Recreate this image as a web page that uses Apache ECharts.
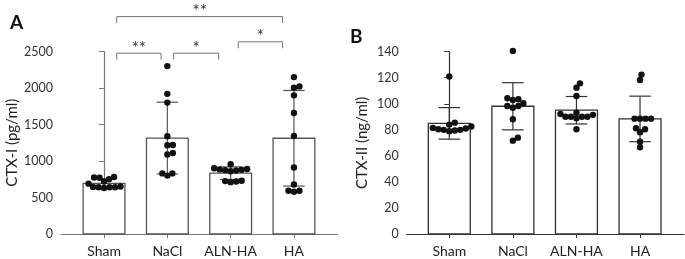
<!DOCTYPE html>
<html>
<head>
<meta charset="utf-8">
<script src="https://cdn.jsdelivr.net/npm/echarts@6/dist/echarts.min.js"></script>
<style>
  html, body { margin: 0; padding: 0; background: #fff; }
  #chart { width: 685px; height: 259px; }
</style>
</head>
<body>
<div id="chart"></div>
<script>
// groups
const categories = ['Sham', 'NaCl', 'ALN-HA', 'HA'];

// A: CTX-I (pg/ml), one value per animal
const ctx1Sham = [640, 640, 645, 640, 650, 630, 690, 720, 750, 775, 780, 770];
const ctx1NaCl = [2300, 1920, 1800, 1340, 1220, 1215, 1110, 1090, 830, 830, 800];
const ctx1AlnHa = [860, 870, 880, 890, 900, 956, 885, 875, 730, 725, 720, 710];
const ctx1Ha = [2149, 2022, 2004, 1899, 1657, 1343, 911, 679, 592, 592, 578];

// B: CTX-II (ng/ml)
const ctx2Sham = [121, 85.5, 84, 82.5, 81.5, 81, 80.5, 80, 79.5, 79, 80];
const ctx2NaCl = [140.6, 104.2, 103.5, 102.9, 100.4, 98.3, 97.0, 98.3, 88.1, 74.0, 71.7];
const ctx2AlnHa = [115.7, 112.4, 106, 90.1, 90.1, 90.1, 90.1, 91.5, 93.2, 88.9, 92.2, 80.4];
const ctx2Ha = [122.4, 118.3, 88.6, 88.6, 88.6, 88.6, 81.2, 80.4, 78.1, 70.9, 66.6];

// y tick labels
const ctx1Ticks = [0, 500, 1000, 1500, 2000, 2500];
const ctx2Ticks = [0, 20, 40, 60, 80, 100, 120, 140];

// significance brackets on A: [from, to, height (pg/ml), label]
const sigBrackets = [
  [0.2, 0.9, 2477, '**'],
  [1.1, 1.81, 2477, '*'],
  [2.12, 2.82, 2633, '*'],
  [0.2, 2.82, 2978, '**']
];

const groupsA = [ctx1Sham, ctx1NaCl, ctx1AlnHa, ctx1Ha];
const groupsB = [ctx2Sham, ctx2NaCl, ctx2AlnHa, ctx2Ha];

function mean(a) {
  return a.reduce((s, v) => s + v, 0) / a.length;
}
function sd(a) {
  const m = mean(a);
  return Math.sqrt(a.reduce((s, v) => s + (v - m) * (v - m), 0) / (a.length - 1));
}

// simple beeswarm: lowest values first, each dot pushed sideways until it does not overlap
function swarm(ys, r) {
  const order = ys.map((y, k) => k).sort((a, b) => ys[b] - ys[a]);
  const placed = [];
  const off = new Array(ys.length).fill(0);
  const minD = 2 * r * 0.85;
  order.forEach(k => {
    for (let step = 0; step < 400; step++) {
      const dx = (step % 2 ? 1 : -1) * Math.ceil(step / 2) * 0.5;
      const ok = placed.every(p => {
        const ddx = p[0] - dx, ddy = p[1] - ys[k];
        return ddx * ddx + ddy * ddy >= minD * minD;
      });
      if (ok) { off[k] = dx; placed.push([dx, ys[k]]); break; }
    }
  });
  return off;
}

const barHalf = 0.33;
const capHalf = 0.17;

function barSeries(groups, axis, color) {
  return {
    type: 'custom',
    xAxisIndex: axis, yAxisIndex: axis,
    clip: false,
    data: groups.map((g, i) => [i, mean(g), sd(g)]),
    renderItem: (params, api) => {
      const i = api.value(0), m = api.value(1), s = api.value(2);
      const tl = api.coord([i - barHalf, m]);
      const br = api.coord([i + barHalf, 0]);
      const lo = api.coord([i, m - s]);
      const hi = api.coord([i, m + s]);
      const capW = api.coord([i + capHalf, 0])[0] - api.coord([i, 0])[0];
      const line = { stroke: color, lineWidth: 1.2 };
      return {
        type: 'group',
        children: [
          { type: 'rect', shape: { x: tl[0], y: tl[1], width: br[0] - tl[0], height: br[1] - tl[1] },
            style: { fill: '#fff', stroke: color, lineWidth: 1.3 } },
          { type: 'line', shape: { x1: lo[0], y1: lo[1], x2: hi[0], y2: hi[1] }, style: line },
          { type: 'line', shape: { x1: lo[0] - capW, y1: lo[1], x2: lo[0] + capW, y2: lo[1] }, style: line },
          { type: 'line', shape: { x1: hi[0] - capW, y1: hi[1], x2: hi[0] + capW, y2: hi[1] }, style: line }
        ]
      };
    }
  };
}

function dotSeries(groups, axis) {
  return {
    type: 'custom',
    xAxisIndex: axis, yAxisIndex: axis,
    clip: false,
    z: 5,
    data: groups.map((g, i) => [i, mean(g)]),
    renderItem: (params, api) => {
      const i = api.value(0);
      const vals = groups[i];
      const cx = api.coord([i, 0])[0];
      const ys = vals.map(v => api.coord([i, v])[1]);
      const off = swarm(ys, 3.2);
      return {
        type: 'group',
        children: vals.map((v, k) => ({
          type: 'circle',
          shape: { cx: cx + off[k], cy: ys[k], r: 3.2 },
          style: { fill: '#111' }
        }))
      };
    }
  };
}

const bracketSeries = {
  type: 'custom',
  xAxisIndex: 0, yAxisIndex: 0,
  clip: false,
  data: sigBrackets.map(b => [b[0], b[2], b[1]]),
  renderItem: (params, api) => {
    const x1 = api.value(0), y = api.value(1), x2 = api.value(2);
    const a = api.coord([x1, y]);
    const b = api.coord([x2, y]);
    const st = { stroke: '#777', lineWidth: 1, fill: 'none' };
    return {
      type: 'group',
      children: [
        { type: 'polyline', shape: { points: [[a[0], a[1] + 6.5], a, b, [b[0], b[1] + 6.5]] }, style: st },
        { type: 'text', style: {
            text: sigBrackets[params.dataIndex][3],
            x: (a[0] + b[0]) / 2, y: a[1] - 5,
            align: 'center', verticalAlign: 'middle',
            fill: '#333', font: '17px Lato'
          } }
      ]
    };
  }
};

function xAxis(grid, min, max, color) {
  return {
    type: 'value', gridIndex: grid, min: min, max: max,
    axisLine: { show: true, onZero: false, lineStyle: { color: color, width: 1.2 } },
    axisTick: { show: true, customValues: [0, 1, 2, 3], length: 4, lineStyle: { color: color } },
    axisLabel: {
      customValues: [0, 1, 2, 3], margin: 10,
      formatter: v => categories[Math.round(v)],
      fontFamily: 'Lato', fontSize: 14, color: '#222'
    },
    splitLine: { show: false }
  };
}

function yAxis(grid, ticks, name, gap, color) {
  return {
    type: 'value', gridIndex: grid,
    min: ticks[0], max: ticks[ticks.length - 1], interval: ticks[1] - ticks[0],
    name: name, nameLocation: 'middle', nameGap: gap,
    nameTextStyle: { fontFamily: 'Lato', fontSize: 15, color: '#222' },
    axisLine: { show: true, lineStyle: { color: color, width: 1.2 } },
    axisTick: { show: true, length: 5, lineStyle: { color: color } },
    axisLabel: { margin: 8, fontFamily: 'Lato', fontSize: 12.5, color: '#333', formatter: v => String(v) },
    splitLine: { show: false }
  };
}

const chart = echarts.init(document.getElementById('chart'));
chart.setOption({
  animation: false,
  backgroundColor: '#fff',
  title: [
    { text: 'A', left: 5, top: 8, textStyle: { fontFamily: 'Lato', fontSize: 19, fontWeight: 'bold', color: '#111' } },
    { text: 'B', left: 345, top: 22, textStyle: { fontFamily: 'Lato', fontSize: 19, fontWeight: 'bold', color: '#111' } }
  ],
  grid: [
    { left: 61, top: 51.5, width: 276, height: 182.5 },
    { left: 406.7, top: 51.7, width: 277.2, height: 182.3 }
  ],
  xAxis: [xAxis(0, -0.68, 3.68, '#777'), xAxis(1, -0.67, 3.69, '#333')],
  yAxis: [yAxis(0, ctx1Ticks, 'CTX-I (pg/ml)', 41, '#777'), yAxis(1, ctx2Ticks, 'CTX-II (ng/ml)', 37, '#333')],
  series: [
    barSeries(groupsA, 0, '#555'),
    dotSeries(groupsA, 0),
    bracketSeries,
    barSeries(groupsB, 1, '#333'),
    dotSeries(groupsB, 1)
  ]
});
</script>
</body>
</html>
